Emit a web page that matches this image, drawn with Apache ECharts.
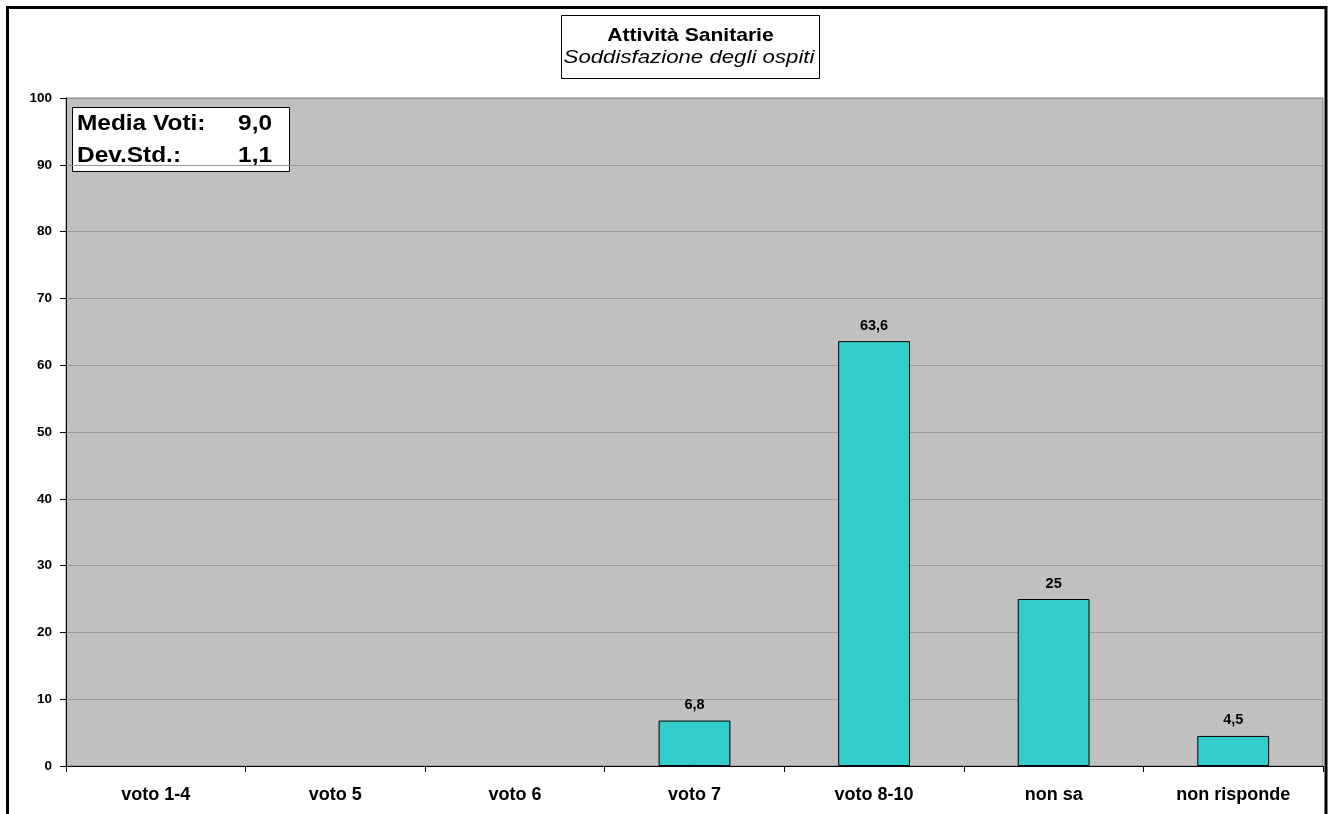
<!DOCTYPE html>
<html><head><meta charset="utf-8">
<script src="https://cdn.jsdelivr.net/npm/echarts@6/dist/echarts.min.js"></script>
<style>html,body{margin:0;padding:0;background:#fff}#c{width:1334px;height:814px}</style>
</head><body><div id="c"></div>
<script>
const categories = ['voto 1-4','voto 5','voto 6','voto 7','voto 8-10','non sa','non risponde'];
const values = [null, null, null, 6.8, 63.6, 25, 4.5];
const yTicks = [0,10,20,30,40,50,60,70,80,90,100];
const statLabels = ['Media Voti:', 'Dev.Std.:'];
const statValues = ['9,0', '1,1'];
const titleText = 'Attività Sanitarie';
const subtitleText = 'Soddisfazione degli ospiti';

const fmt = v => String(v).replace('.', ',');
const chart = echarts.init(document.getElementById('c'));
const font = 'Arial, "Liberation Sans", sans-serif';

const statTexts = [];
statLabels.forEach((lab, i) => {
  const y = 123.5 + i * 32.5;
  statTexts.push({type: 'text', x: 77, y: y, scaleX: 1.11,
    style: {text: lab, fontFamily: font, fontSize: 22, fontWeight: 'bold', fill: '#000', verticalAlign: 'middle'}});
  statTexts.push({type: 'text', x: 272, y: y, scaleX: 1.11,
    style: {text: statValues[i], align: 'right', fontFamily: font, fontSize: 22, fontWeight: 'bold', fill: '#000', verticalAlign: 'middle'}});
});

chart.setOption({
  backgroundColor: '#ffffff',
  animation: false,
  grid: {left: 66, right: 11, top: 98, bottom: 48, show: true,
    backgroundColor: '#C0C0C0', borderColor: '#808080', borderWidth: 1},
  xAxis: {
    type: 'category', data: categories,
    axisLine: {lineStyle: {color: '#000', width: 1}},
    axisTick: {show: true, alignWithLabel: false, length: 6, lineStyle: {color: '#000'}},
    axisLabel: {fontFamily: font, fontSize: 18, fontWeight: 'bold', color: '#000', margin: 20}
  },
  yAxis: {
    type: 'value', min: 0, max: 100, interval: 10,
    axisLine: {show: true, lineStyle: {color: '#000', width: 1}},
    axisTick: {show: true, length: 6, lineStyle: {color: '#000'}},
    axisLabel: {fontFamily: font, fontSize: 13.5, fontWeight: 'bold', color: '#000', margin: 14,
      formatter: v => yTicks.includes(v) ? String(v) : ''},
    splitLine: {lineStyle: {color: '#999999', width: 1}}
  },
  series: [{
    type: 'bar', data: values, barWidth: '40%',
    itemStyle: {color: '#33CCCC', borderColor: '#000', borderWidth: 1},
    label: {show: true, position: 'top', distance: 8, fontFamily: font, fontSize: 14.5,
      fontWeight: 'bold', color: '#000', formatter: p => fmt(p.value)}
  }],
  graphic: [
    {type: 'rect', shape: {x: 7.5, y: 7.5, width: 1318.5, height: 830},
     style: {fill: null, stroke: '#000', lineWidth: 3}, silent: true},
    {type: 'rect', shape: {x: 561.5, y: 15.5, width: 258, height: 63},
     style: {fill: '#fff', stroke: '#000', lineWidth: 1}, silent: true},
    {type: 'text', x: 690.5, y: 36, scaleX: 1.11,
     style: {text: titleText, align: 'center', verticalAlign: 'middle', fontFamily: font, fontSize: 19, fontWeight: 'bold', fill: '#000'}},
    {type: 'text', x: 689, y: 58, scaleX: 1.17,
     style: {text: subtitleText, align: 'center', verticalAlign: 'middle', fontFamily: font, fontSize: 19, fontStyle: 'italic', fill: '#000'}},
    {type: 'rect', shape: {x: 72.5, y: 107.5, width: 217, height: 64},
     style: {fill: '#fff', stroke: '#000', lineWidth: 1}, silent: true}
  ].concat(statTexts)
});
</script></body></html>
